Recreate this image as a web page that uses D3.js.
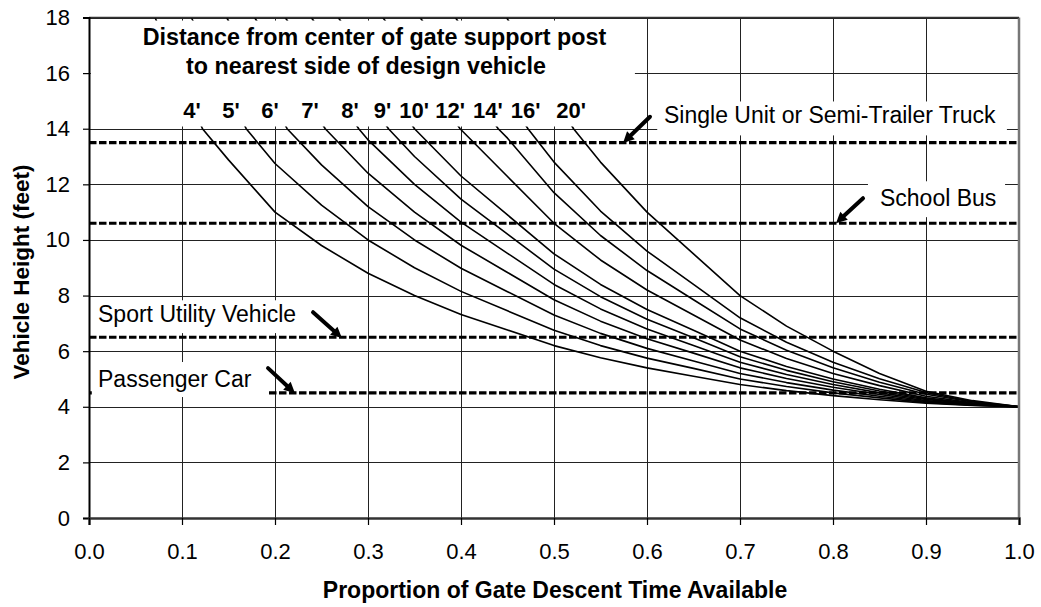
<!DOCTYPE html>
<html><head><meta charset="utf-8">
<script src="https://cdn.jsdelivr.net/npm/d3@7"></script>
<style>
body{margin:0;background:#fff}
svg{display:block}
text{font-family:Arial,"Liberation Sans",Helvetica,sans-serif;fill:#000}
</style>
</head><body>
<svg id="chart" width="1041" height="607"></svg>
<script>
// ---------------- data ----------------
const distances = ["4'","5'","6'","7'","8'","9'","10'","12'","14'","16'","20'"];
// proportion of gate descent time where each curve reaches 18 ft and 14 ft
const stubProp = [0.071,0.110,0.148,0.178,0.211,0.239,0.268,0.316,0.356,0.394,0.449];
const topProp  = [0.122,0.169,0.213,0.254,0.290,0.322,0.350,0.399,0.440,0.472,0.521];
// shared proportion grid for the remaining points
const propGrid = [0.15,0.20,0.25,0.30,0.35,0.40,0.45,0.50,0.55,0.60,0.65,0.70,0.75,0.80,0.85,0.90,0.95,1.00];
const h4  = [12.88,11.0,9.8,8.8,8.0,7.32,6.76,6.2,5.76,5.4,5.1,4.8,4.58,4.4,4.25,4.13,4.05,4.0];
const h5  = [null,12.75,11.25,10.0,9.0,8.15,7.45,6.75,6.2,5.75,5.38,5.0,4.73,4.5,4.32,4.16,4.06,4.0];
const h6  = [null,null,12.7,11.2,10.0,8.98,8.14,7.3,6.64,6.1,5.65,5.2,4.87,4.6,4.38,4.19,4.07,4.0];
const h7  = [null,null,null,12.4,11.0,9.81,8.83,7.85,7.08,6.45,5.93,5.4,5.02,4.7,4.44,4.22,4.08,4.0];
const h8  = [null,null,null,13.6,12.0,10.64,9.52,8.4,7.52,6.8,6.2,5.6,5.16,4.8,4.5,4.26,4.1,4.0];
const h9  = [null,null,null,null,13.0,11.47,10.21,8.95,7.96,7.15,6.48,5.8,5.31,4.9,4.57,4.29,4.11,4.0];
const h10 = [null,null,null,null,null,12.3,10.9,9.5,8.4,7.5,6.75,6.0,5.45,5.0,4.63,4.32,4.12,4.0];
const h12 = [null,null,null,null,null,null,12.28,10.6,9.28,8.2,7.3,6.4,5.74,5.2,4.76,4.38,4.14,4.0];
const h14 = [null,null,null,null,null,null,13.66,11.7,10.16,8.9,7.85,6.8,6.03,5.4,4.88,4.45,4.17,4.0];
const h16 = [null,null,null,null,null,null,null,12.8,11.04,9.6,8.4,7.2,6.32,5.6,5.01,4.51,4.19,4.0];
const h20 = [null,null,null,null,null,null,null,null,12.8,11.0,9.5,8.0,6.9,6.0,5.2,4.56,4.22,4.0];
const curveHeights = [h4,h5,h6,h7,h8,h9,h10,h12,h14,h16,h20];

const vehicleNames   = ["Single Unit or Semi-Trailer Truck","School Bus","Sport Utility Vehicle","Passenger Car"];
const vehicleHeights = [13.5,10.6,6.5,4.5];

const xTicks = [0,0.1,0.2,0.3,0.4,0.5,0.6,0.7,0.8,0.9,1.0];
const yTicks = [0,2,4,6,8,10,12,14,16,18];

const titleLines = ["Distance from center of gate support post","to nearest side of design vehicle"];
const xTitle = "Proportion of Gate Descent Time Available";
const yTitle = "Vehicle Height (feet)";

// ---------------- layout ----------------
const L = 89, R = 1019, T = 17.5, B = 518;
const svg = d3.select("#chart");
const x = d3.scaleLinear().domain([0,1]).range([L,R]);
const y = d3.scaleLinear().domain([0,18]).range([B,T]);

// gridlines
const grid = svg.append("g").attr("shape-rendering","crispEdges");
grid.selectAll("line.v").data(xTicks).join("line")
  .attr("x1",d=>Math.round(x(d))+0.5).attr("x2",d=>Math.round(x(d))+0.5)
  .attr("y1",y(18)).attr("y2",y(0)).attr("stroke","#222").attr("stroke-width",1);
grid.selectAll("line.h").data(yTicks).join("line")
  .attr("y1",d=>Math.round(y(d))+0.5).attr("y2",d=>Math.round(y(d))+0.5)
  .attr("x1",x(0)).attr("x2",x(1)).attr("stroke","#222").attr("stroke-width",1);

// vehicle dashed lines
svg.append("g").selectAll("line").data(vehicleHeights).join("line")
  .attr("x1",x(0)).attr("x2",x(1))
  .attr("y1",d=>y(d)).attr("y2",d=>y(d))
  .attr("stroke","#000").attr("stroke-width",3.2)
  .attr("stroke-dasharray","7.5,2.5");

// curves
const line = d3.line().x(d=>x(d[0])).y(d=>y(d[1]));
const curves = curveHeights.map((hs,i)=>{
  const pts = [[stubProp[i],18],[topProp[i],14]];
  hs.forEach((h,j)=>{ if(h!==null) pts.push([propGrid[j],h]); });
  return pts;
});
svg.append("g").selectAll("path").data(curves).join("path")
  .attr("d",line).attr("fill","none").attr("stroke","#000").attr("stroke-width",1.6)
  .attr("stroke-linejoin","round");

// white label boxes (in data units)
const boxes = [
  [0.002,17.89,0.587,14.08],
  [0.611,14.98,0.987,13.76],
  [0.8376,12.11,0.985,10.82],
  [0.003,7.83,0.2355,6.65],
  [0.003,5.61,0.1925,4.35]
];
svg.append("g").selectAll("rect").data(boxes).join("rect")
  .attr("x",d=>x(d[0])).attr("y",d=>y(d[1]))
  .attr("width",d=>x(d[2])-x(d[0])).attr("height",d=>y(d[3])-y(d[1]))
  .attr("fill","#fff");

// frame
svg.append("line").attr("x1",R).attr("x2",R).attr("y1",T).attr("y2",B).attr("stroke","#777").attr("stroke-width",2.5);
svg.append("line").attr("x1",L).attr("x2",R).attr("y1",T).attr("y2",T).attr("stroke","#333").attr("stroke-width",1.5);

// axes
const fs = 22;
const yAxis = svg.append("g").attr("transform",`translate(${L},0)`)
  .call(d3.axisLeft(y).tickValues(yTicks).tickSize(6).tickPadding(13).tickFormat(d3.format("d")));
const xAxis = svg.append("g").attr("transform",`translate(0,${B})`)
  .call(d3.axisBottom(x).tickValues(xTicks).tickSize(7).tickPadding(18).tickFormat(d3.format(".1f")));
[yAxis,xAxis].forEach(a=>{
  a.selectAll("text").attr("font-size",fs).attr("font-family","Arial, Liberation Sans, sans-serif").attr("fill","#000");
  a.selectAll("line").attr("stroke","#000").attr("stroke-width",1.2);
});
yAxis.select(".domain").attr("stroke","#000").attr("stroke-width",2);
xAxis.select(".domain").attr("stroke","#333").attr("stroke-width",2.5);

// axis titles
svg.append("text").attr("x",555).attr("y",598).attr("text-anchor","middle")
  .attr("font-size",23).attr("font-weight","bold").text(xTitle);
svg.append("text").attr("transform","translate(29,272) rotate(-90)").attr("text-anchor","middle")
  .attr("font-size",22.5).attr("font-weight","bold").text(yTitle);

// title lines
const titleCenters = [374.5,366], titleBase = [45,74];
svg.append("g").selectAll("text").data(titleLines).join("text")
  .attr("x",(d,i)=>titleCenters[i]).attr("y",(d,i)=>titleBase[i])
  .attr("text-anchor","middle").attr("font-size",23.3).attr("font-weight","bold").text(d=>d);

// curve labels
const labelProp = [0.1108,0.1527,0.1946,0.2376,0.2806,0.3156,0.3495,0.3882,0.4290,0.4694,0.5183];
svg.append("g").selectAll("text").data(distances).join("text")
  .attr("x",(d,i)=>x(labelProp[i])).attr("y",y(14)-10.5)
  .attr("text-anchor","middle").attr("font-size",22).attr("font-weight","bold").text(d=>d);

// vehicle labels
const labelPos = [[0.6183,14.19],[0.8505,11.21],[0.0097,7.05],[0.0097,4.72]];
svg.append("g").selectAll("text").data(vehicleNames).join("text")
  .attr("x",(d,i)=>x(labelPos[i][0])).attr("y",(d,i)=>y(labelPos[i][1]))
  .attr("font-size",23).text(d=>d);

// arrows (tail -> head, data units)
const arrows = [
  [[0.6032,14.43],[0.5742,13.49]],
  [[0.8323,11.50],[0.8032,10.60]],
  [[0.2409,7.40],[0.2720,6.47]],
  [[0.1925,5.39],[0.2215,4.49]]
];
const ag = svg.append("g");
arrows.forEach(([a,b])=>{
  const x1=x(a[0]),y1=y(a[1]),x2=x(b[0]),y2=y(b[1]);
  const ang=Math.atan2(y2-y1,x2-x1), len=11, w=5.5;
  const bx=x2-len*Math.cos(ang), by=y2-len*Math.sin(ang);
  ag.append("line").attr("x1",x1).attr("y1",y1).attr("x2",bx).attr("y2",by)
    .attr("stroke","#000").attr("stroke-width",4).attr("stroke-linecap","round");
  const px=-Math.sin(ang), py=Math.cos(ang);
  ag.append("path").attr("d",`M${x2},${y2}L${bx+px*w},${by+py*w}L${bx-px*w},${by-py*w}Z`).attr("fill","#000");
});
</script>
</body></html>
